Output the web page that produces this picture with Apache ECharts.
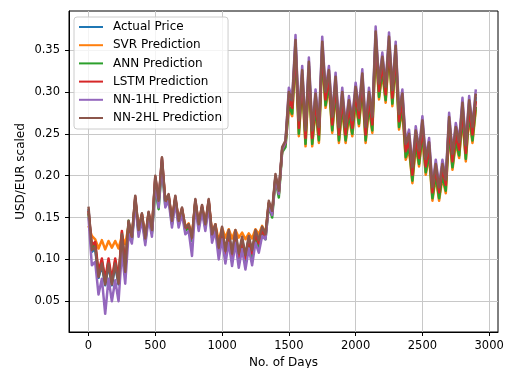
<!DOCTYPE html>
<html>
<head>
<meta charset="utf-8">
<script src="https://cdn.jsdelivr.net/npm/echarts@6/dist/echarts.min.js"></script>
<style>
  html, body { margin: 0; padding: 0; background: #fff; }
  #chart { width: 507px; height: 368px; }
</style>
</head>
<body>
<div id="chart"></div>
<script>
// 每 25 天取一个点（从图上读出的值，上下交替表示噪声带）
const dayStep = 25
const xTicks = [0, 500, 1000, 1500, 2000, 2500, 3000]
const yTicks = [0.05, 0.10, 0.15, 0.20, 0.25, 0.30, 0.35]
const seriesNames = ['Actual Price', 'SVR Prediction', 'ANN Prediction', 'LSTM Prediction', 'NN-1HL Prediction', 'NN-2HL Prediction']
const colors = ['#1f77b4', '#ff7f0e', '#2ca02c', '#d62728', '#9467bd', '#8c564b']

const actualPrice = [
  .160,.109,.113,.078,.093,.069,.093,.069,.093,.070,
  .128,.084,.143,.125,.173,.133,.152,.123,.154,.133,
  .197,.168,.219,.168,.175,.144,.173,.144,.159,.136,
  .139,.124,.169,.140,.162,.140,.169,.128,.139,.112,
  .136,.108,.132,.105,.132,.105,.124,.103,.125,.109,
  .132,.121,.136,.128,.167,.156,.199,.180,.231,.239,
  .296,.286,.357,.262,.321,.250,.331,.250,.294,.254,
  .355,.296,.321,.266,.313,.254,.296,.254,.286,.262,
  .302,.274,.317,.254,.296,.266,.367,.306,.337,.302,
  .361,.298,.350,.270,.294,.234,.246,.206,.250,.226,
  .262,.216,.236,.183,.211,.183,.211,.192,.266,.222,
  .254,.236,.283,.232,.286,.254,.294
]
const svrPred = [
  .140,.128,.124,.113,.123,.112,.122,.114,.122,.113,
  .128,.118,.140,.128,.170,.136,.154,.126,.155,.136,
  .195,.170,.214,.171,.175,.147,.172,.147,.160,.139,
  .143,.128,.168,.143,.162,.143,.168,.132,.142,.122,
  .138,.126,.136,.125,.135,.126,.132,.124,.131,.125,
  .136,.130,.140,.131,.167,.155,.198,.178,.230,.238,
  .281,.271,.343,.247,.307,.235,.317,.235,.279,.239,
  .341,.281,.307,.251,.299,.239,.281,.239,.271,.247,
  .287,.259,.303,.239,.281,.251,.353,.291,.323,.287,
  .347,.283,.336,.255,.279,.219,.231,.191,.235,.211,
  .247,.201,.224,.170,.198,.170,.198,.179,.251,.207,
  .239,.221,.268,.217,.271,.239,.279
]
const annPred = [
  .155,.114,.118,.082,.098,.073,.098,.073,.098,.074,
  .132,.088,.146,.123,.172,.131,.151,.121,.153,.131,
  .185,.160,.212,.164,.174,.142,.172,.142,.158,.134,
  .138,.122,.168,.138,.161,.138,.168,.126,.138,.110,
  .130,.101,.126,.098,.126,.098,.118,.096,.119,.102,
  .126,.114,.130,.124,.164,.150,.196,.174,.228,.234,
  .284,.274,.346,.250,.310,.238,.320,.238,.282,.242,
  .344,.284,.310,.254,.302,.242,.284,.242,.274,.250,
  .290,.262,.306,.242,.284,.254,.356,.294,.326,.290,
  .350,.286,.339,.258,.282,.222,.234,.194,.238,.214,
  .250,.204,.227,.173,.201,.173,.201,.182,.254,.210,
  .242,.224,.271,.220,.274,.242,.282
]
const lstmPred = [
  .158,.117,.121,.085,.101,.076,.101,.076,.101,.077,
  .134,.091,.144,.126,.175,.134,.154,.124,.156,.134,
  .199,.169,.221,.169,.177,.145,.175,.145,.161,.137,
  .141,.125,.171,.141,.164,.141,.171,.129,.141,.113,
  .135,.106,.131,.103,.131,.103,.123,.101,.124,.107,
  .131,.119,.135,.127,.167,.155,.199,.179,.231,.239,
  .291,.281,.353,.257,.317,.245,.327,.245,.289,.249,
  .351,.291,.317,.261,.309,.249,.291,.249,.281,.257,
  .297,.269,.313,.249,.291,.261,.363,.301,.333,.297,
  .357,.293,.346,.265,.289,.229,.241,.201,.245,.221,
  .257,.211,.234,.180,.208,.180,.208,.189,.261,.217,
  .249,.231,.278,.227,.281,.249,.289
]
const nn1hlPred = [
  .150,.093,.097,.058,.077,.035,.077,.050,.075,.050,
  .110,.071,.130,.119,.168,.127,.147,.117,.149,.127,
  .192,.162,.214,.162,.170,.138,.168,.138,.154,.130,
  .134,.104,.164,.134,.157,.134,.164,.120,.134,.100,
  .124,.095,.120,.092,.120,.090,.112,.088,.113,.093,
  .120,.108,.128,.124,.165,.153,.198,.178,.231,.240,
  .305,.292,.368,.268,.331,.256,.341,.256,.303,.260,
  .366,.302,.331,.272,.323,.260,.305,.260,.295,.268,
  .311,.280,.327,.260,.305,.272,.378,.312,.347,.308,
  .371,.304,.360,.276,.303,.240,.255,.212,.259,.232,
  .271,.222,.245,.188,.219,.188,.219,.197,.275,.228,
  .263,.242,.293,.238,.295,.260,.303
]
const nn2hlPred = [
  .163,.111,.115,.079,.095,.070,.095,.070,.095,.071,
  .130,.085,.146,.127,.176,.135,.155,.125,.157,.135,
  .200,.170,.222,.170,.178,.146,.176,.146,.162,.138,
  .142,.126,.172,.142,.165,.142,.172,.130,.142,.114,
  .139,.110,.135,.107,.135,.107,.127,.105,.128,.111,
  .135,.123,.139,.130,.170,.158,.202,.182,.234,.242,
  .300,.290,.362,.266,.326,.254,.336,.254,.298,.258,
  .360,.300,.326,.270,.318,.258,.300,.258,.290,.266,
  .306,.278,.322,.258,.300,.270,.372,.310,.342,.306,
  .366,.302,.355,.274,.298,.238,.250,.210,.254,.230,
  .266,.220,.240,.186,.214,.186,.214,.195,.270,.226,
  .258,.240,.287,.236,.290,.258,.298
]

const allValues = [actualPrice, svrPred, annPred, lstmPred, nn1hlPred, nn2hlPred]

const font = 'DejaVu Sans'
const series = allValues.map((vals, k) => ({
  name: seriesNames[k],
  type: 'line',
  symbol: 'none',
  silent: true,
  data: vals.map((v, i) => [i * dayStep, v]),
  lineStyle: { color: colors[k], width: 2.5, join: 'round' },
  itemStyle: { color: colors[k] }
}))

const chart = echarts.init(document.getElementById('chart'), null, { renderer: 'canvas' })
chart.setOption({
  animation: false,
  grid: {
    left: 69, right: 9, top: 11, bottom: 36,
    outerBoundsMode: 'none',
    show: true, borderColor: '#000', borderWidth: 1, backgroundColor: 'transparent'
  },
  legend: {
    orient: 'vertical',
    left: 74, top: 17,
    padding: [4, 6, 5, 5],
    icon: 'rect',
    itemWidth: 24, itemHeight: 2, itemGap: 6.2,
    backgroundColor: 'rgba(255,255,255,0.8)',
    borderColor: '#cccccc', borderWidth: 1, borderRadius: 3,
    textStyle: { fontFamily: font, fontSize: 12, lineHeight: 12, color: '#000', padding: [0, 0, 0, 5] },
    data: seriesNames
  },
  xAxis: {
    type: 'value',
    min: -146, max: 3066,
    name: 'No. of Days', nameLocation: 'middle', nameGap: 23.5,
    nameTextStyle: { fontFamily: font, fontSize: 12, color: '#000' },
    axisLine: { show: true, onZero: false, lineStyle: { color: '#000', width: 1 } },
    axisTick: { show: true, length: 4, customValues: xTicks, lineStyle: { color: '#000' } },
    axisLabel: {
      customValues: xTicks, margin: 8, fontFamily: font, fontSize: 11.5, color: '#000',
      formatter: v => String(v)
    },
    splitLine: { show: true, lineStyle: { color: '#c8c8c8', width: 1 } }
  },
  yAxis: {
    type: 'value',
    min: 0.0133, max: 0.3966,
    name: 'USD/EUR scaled', nameLocation: 'middle', nameGap: 42,
    nameMoveOverlap: false,
    nameTextStyle: { fontFamily: font, fontSize: 12, color: '#000' },
    axisLine: { show: true, onZero: false, lineStyle: { color: '#000', width: 1 } },
    axisTick: { show: true, length: 4, customValues: yTicks, lineStyle: { color: '#000' } },
    axisLabel: {
      customValues: yTicks, margin: 9, fontFamily: font, fontSize: 11.5, color: '#000',
      formatter: v => v.toFixed(2)
    },
    splitLine: { show: true, lineStyle: { color: '#c8c8c8', width: 1 } }
  },
  series
})
</script>
</body>
</html>
